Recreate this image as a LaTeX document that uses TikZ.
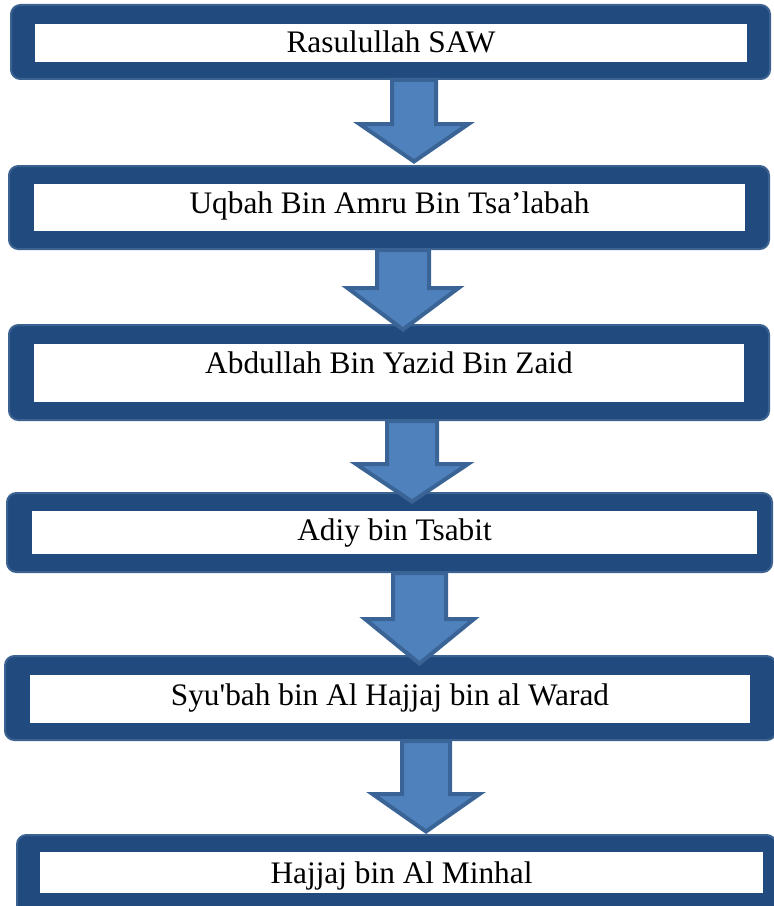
\documentclass[tikz,border=0pt]{standalone}
\usepackage{fontspec}
\setmainfont{Liberation Serif}
\usetikzlibrary{fit,calc}
\definecolor{framecol}{HTML}{214A7E}
\definecolor{frameedge}{HTML}{3C6291}
\definecolor{arrowcol}{HTML}{4F81BD}
\definecolor{arrowedge}{HTML}{3A6496}
\tikzset{
  framebox/.style={fill=framecol, draw=frameedge, line width=1.5pt, rounded corners=7pt, inner sep=0pt},
  whitebox/.style={fill=white, inner sep=0pt},
  nametext/.style={font=\fontsize{23.5}{28}\selectfont, anchor=base, inner sep=0pt},
  blockarrow/.style={fill=arrowcol, draw=arrowedge, line width=3pt}
}

\begin{document}
\begin{tikzpicture}[x=0.75pt,y=-0.75pt]
        \useasboundingbox (0,0) rectangle (774,906);
        % the chain of narrators
        \foreach \i/\xa/\ya/\xb/\yb/\ia/\ja/\ib/\jb/\bl/\txt in {
        1/11/5/770/79/35/24/747/62/53/Rasulullah SAW,
        2/9/166/769/249/34/184/745/231/213/Uqbah Bin Amru Bin Tsa’labah,
        3/9/325/769/420/34/344/744/402/373/Abdullah Bin Yazid Bin Zaid,
        4/7/493/772/572/32/511/757/554/540/Adiy bin Tsabit,
        5/5/656/776/740/30/675/750/723/705/Syu\textquotesingle bah bin Al Hajjaj bin al Warad,
        6/17/835/776/930/40/852/763/893/883/Hajjaj bin Al Minhal}{
        \node[framebox, fit={(\xa,\ya) (\xb,\yb)}] (f\i) {};
        \node[whitebox, fit={(\ia,\ja) (\ib,\jb)}] (w\i) {};
        \node[nametext] (t\i) at ({(\ia+\ib)/2},\bl) {\txt};
        }
        % block arrows
        \foreach \a/\b/\cx/\hs/\hh/\hy/\dt in {
        1/2/414/22/54.5/124/-3.5,
        2/3/403/26/55.5/288/5.5,
        3/4/412/25/56/464/9.5,
        4/5/419.5/26.5/54.5/619/8.5,
        5/6/426/24/53.5/794/-2.5}{
        \coordinate (c\a) at (\cx,0);
        \draw[blockarrow] ($(c\a |- f\a.south)+(-\hs,0)$) -- ($(c\a |- f\a.south)+(\hs,0)$)
          -- (\cx+\hs,\hy) -- (\cx+\hh,\hy) -- ($(c\a |- f\b.north)+(0,\dt)$)
          -- (\cx-\hh,\hy) -- (\cx-\hs,\hy) -- cycle;
        }
      \end{tikzpicture}
\end{document}
